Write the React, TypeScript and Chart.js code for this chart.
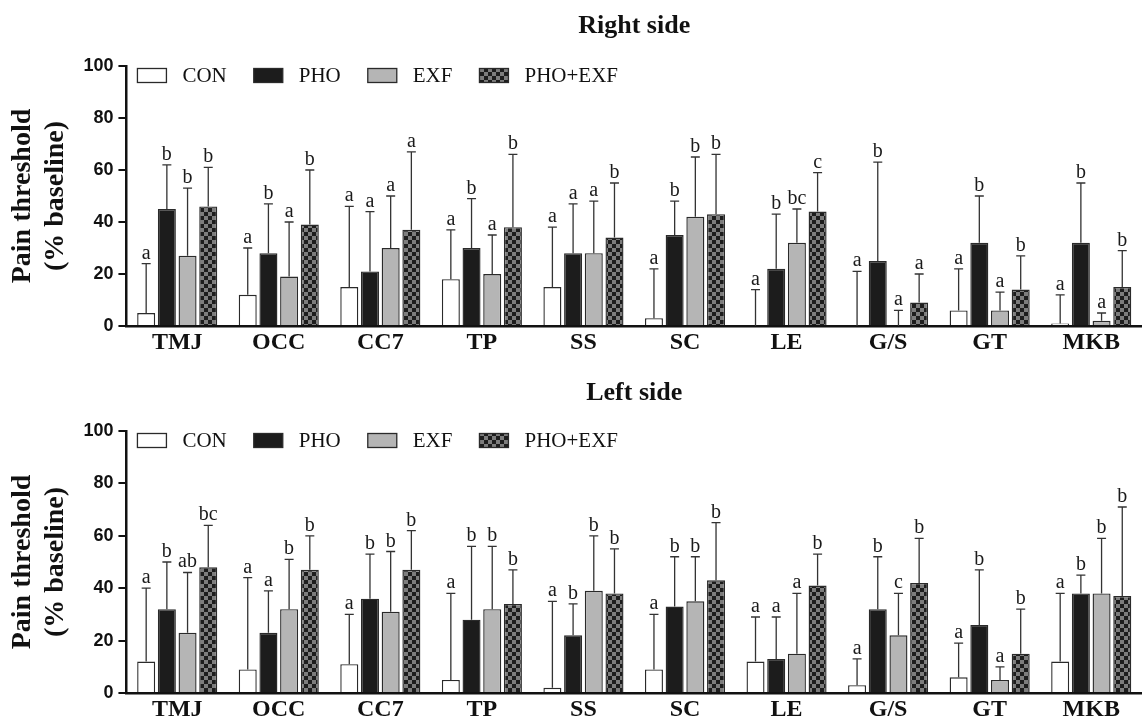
import React, { useEffect, useRef } from "react";
import { Chart, registerables } from "chart.js";
Chart.register(...registerables);

const categories = ["TMJ", "OCC", "CC7", "TP", "SS", "SC", "LE", "G/S", "GT", "MKB"];
const groupNames = ["CON", "PHO", "EXF", "PHO+EXF"];
const yTicks = [0, 20, 40, 60, 80, 100];
const yTitle = ["Pain threshold", "(% baseline)"];

// Right side
const rightConMean = [5, 12, 15, 18, 15, 3, 0, 0, 6, 1];
const rightConUpper = [24, 30, 46, 37, 38, 22, 14, 21, 22, 12];
const rightConLetters = ["a", "a", "a", "a", "a", "a", "a", "a", "a", "a"];
const rightPhoMean = [45, 28, 21, 30, 28, 35, 22, 25, 32, 32];
const rightPhoUpper = [62, 47, 44, 49, 47, 48, 43, 63, 50, 55];
const rightPhoLetters = ["b", "b", "a", "b", "a", "b", "b", "b", "b", "b"];
const rightExfMean = [27, 19, 30, 20, 28, 42, 32, 0, 6, 2];
const rightExfUpper = [53, 40, 50, 35, 48, 65, 45, 6, 13, 5];
const rightExfLetters = ["b", "a", "a", "a", "a", "b", "bc", "a", "a", "a"];
const rightBothMean = [46, 39, 37, 38, 34, 43, 44, 9, 14, 15];
const rightBothUpper = [61, 60, 67, 66, 55, 66, 59, 20, 27, 29];
const rightBothLetters = ["b", "b", "a", "b", "b", "b", "c", "a", "b", "b"];

// Left side
const leftConMean = [12, 9, 11, 5, 2, 9, 12, 3, 6, 12];
const leftConUpper = [40, 44, 30, 38, 35, 30, 29, 13, 19, 38];
const leftConLetters = ["a", "a", "a", "a", "a", "a", "a", "a", "a", "a"];
const leftPhoMean = [32, 23, 36, 28, 22, 33, 13, 32, 26, 38];
const leftPhoUpper = [50, 39, 53, 56, 34, 52, 29, 52, 47, 45];
const leftPhoLetters = ["b", "a", "b", "b", "b", "b", "a", "b", "b", "b"];
const leftExfMean = [23, 32, 31, 32, 39, 35, 15, 22, 5, 38];
const leftExfUpper = [46, 51, 54, 56, 60, 52, 38, 38, 10, 59];
const leftExfLetters = ["ab", "b", "b", "b", "b", "b", "a", "c", "a", "b"];
const leftBothMean = [48, 47, 47, 34, 38, 43, 41, 42, 15, 37];
const leftBothUpper = [64, 60, 62, 47, 55, 65, 53, 59, 32, 71];
const leftBothLetters = ["bc", "b", "b", "b", "b", "b", "b", "b", "b", "b"];

const SERIF = "'Liberation Serif', 'Times New Roman', serif";
const SANS = "'Liberation Sans', Arial, sans-serif";
const INK = "#111111";
const EDGE = "#2a2a2a";

function makeChecker(): CanvasPattern | string {
  const c = document.createElement("canvas");
  c.width = 8;
  c.height = 8;
  const g = c.getContext("2d");
  if (!g) return "#555";
  g.fillStyle = "#7d7d7d";
  g.fillRect(0, 0, 8, 8);
  g.fillStyle = "#1d1d1d";
  g.fillRect(0, 0, 4, 4);
  g.fillRect(4, 4, 4, 4);
  return g.createPattern(c, "repeat") || "#555";
}

const errPlugin = {
  id: "errLetters",
  afterDatasetsDraw(chart: any) {
    const { ctx } = chart;
    const y = chart.scales.y;
    ctx.save();
    chart.data.datasets.forEach((ds: any, di: number) => {
      const meta = chart.getDatasetMeta(di);
      meta.data.forEach((bar: any, i: number) => {
        const x = bar.x;
        const yb = bar.y;
        const yt = y.getPixelForValue(ds.upper[i]);
        ctx.strokeStyle = "#333";
        ctx.lineWidth = 1.3;
        ctx.beginPath();
        ctx.moveTo(x, yb);
        ctx.lineTo(x, yt);
        ctx.moveTo(x - 4.5, yt);
        ctx.lineTo(x + 4.5, yt);
        ctx.stroke();
        ctx.fillStyle = "#1a1a1a";
        ctx.font = `20px ${SERIF}`;
        ctx.textAlign = "center";
        ctx.textBaseline = "alphabetic";
        ctx.fillText(ds.letters[i], x, yt - 5);
      });
    });
    ctx.restore();
  },
};

const legendPlugin = {
  id: "insideLegend",
  afterDraw(chart: any) {
    const { ctx, chartArea } = chart;
    let x = chartArea.left + 11;
    const y = chartArea.top + 2.5;
    ctx.save();
    ctx.font = `21px ${SERIF}`;
    ctx.textBaseline = "middle";
    ctx.textAlign = "left";
    chart.data.datasets.forEach((ds: any) => {
      ctx.fillStyle = ds.backgroundColor;
      ctx.fillRect(x, y, 29, 14);
      ctx.strokeStyle = EDGE;
      ctx.lineWidth = 1.3;
      ctx.strokeRect(x, y, 29, 14);
      ctx.fillStyle = INK;
      ctx.fillText(ds.label, x + 45, y + 8);
      x += 45 + ctx.measureText(ds.label).width + 27;
    });
    ctx.restore();
  },
};

type Series = { mean: number[]; upper: number[]; letters: string[] };

function buildChart(
  canvas: HTMLCanvasElement,
  title: string,
  series: Series[],
  titlePad: { top: number; bottom: number },
  bottomPad: number
) {
  const fills: (string | CanvasPattern)[] = ["#ffffff", "#1c1c1c", "#b5b5b5", makeChecker()];
  return new Chart(canvas, {
    type: "bar",
    data: {
      labels: categories,
      datasets: series.map((s, k) => ({
        label: groupNames[k],
        data: s.mean,
        upper: s.upper,
        letters: s.letters,
        backgroundColor: fills[k],
        borderColor: EDGE,
        borderWidth: 1.4,
        barPercentage: 0.87,
        categoryPercentage: 0.815,
      })) as any,
    },
    options: {
      responsive: false,
      animation: false,
      devicePixelRatio: 1,
      layout: { padding: { left: 0, right: 0, top: 0, bottom: bottomPad } },
      plugins: {
        legend: { display: false },
        tooltip: { enabled: false },
        title: {
          display: true,
          text: title,
          fullSize: false,
          color: INK,
          font: { family: SERIF, weight: "bold", size: 26, lineHeight: 1.2 },
          padding: titlePad,
        },
      },
      scales: {
        x: {
          type: "category",
          grid: { display: false, drawTicks: false },
          border: { display: true, color: INK, width: 2.5 },
          ticks: {
            color: INK,
            padding: 3,
            font: { family: SERIF, weight: "bold", size: 24, lineHeight: 1.15 },
          },
        },
        y: {
          min: 0,
          max: 100,
          afterBuildTicks: (s: any) => {
            s.ticks = yTicks.map((v) => ({ value: v }));
          },
          grid: {
            display: true,
            drawOnChartArea: false,
            drawTicks: true,
            tickLength: 8,
            color: INK,
            lineWidth: 2,
          },
          border: { display: true, color: INK, width: 2.5 },
          ticks: {
            color: INK,
            padding: 5,
            font: { family: SANS, weight: "bold", size: 18 },
          },
          title: {
            display: true,
            text: yTitle,
            color: INK,
            font: { family: SERIF, weight: "bold", size: 28, lineHeight: 1.15 },
            padding: { top: 7, bottom: 7 },
          },
        },
      },
    } as any,
    plugins: [errPlugin, legendPlugin],
  });
}

export default function App() {
  const topRef = useRef<HTMLCanvasElement>(null);
  const botRef = useRef<HTMLCanvasElement>(null);

  useEffect(() => {
    document.body.style.margin = "0";
    document.body.style.background = "#ffffff";
    const right: Series[] = [
      { mean: rightConMean, upper: rightConUpper, letters: rightConLetters },
      { mean: rightPhoMean, upper: rightPhoUpper, letters: rightPhoLetters },
      { mean: rightExfMean, upper: rightExfUpper, letters: rightExfLetters },
      { mean: rightBothMean, upper: rightBothUpper, letters: rightBothLetters },
    ];
    const left: Series[] = [
      { mean: leftConMean, upper: leftConUpper, letters: leftConLetters },
      { mean: leftPhoMean, upper: leftPhoUpper, letters: leftPhoLetters },
      { mean: leftExfMean, upper: leftExfUpper, letters: leftExfLetters },
      { mean: leftBothMean, upper: leftBothUpper, letters: leftBothLetters },
    ];
    const c1 = buildChart(topRef.current!, "Right side", right, { top: 10.4, bottom: 24.4 }, -3.6);
    const c2 = buildChart(botRef.current!, "Left side", left, { top: 21.4, bottom: 22.4 }, -4.6);
    return () => {
      c1.destroy();
      c2.destroy();
    };
  }, []);

  return (
    <div style={{ position: "relative", width: 1142, height: 718, overflow: "hidden", background: "#fff" }}>
      <canvas ref={topRef} width={1142} height={356} style={{ display: "block" }} />
      <canvas ref={botRef} width={1142} height={366} style={{ display: "block" }} />
    </div>
  );
}
